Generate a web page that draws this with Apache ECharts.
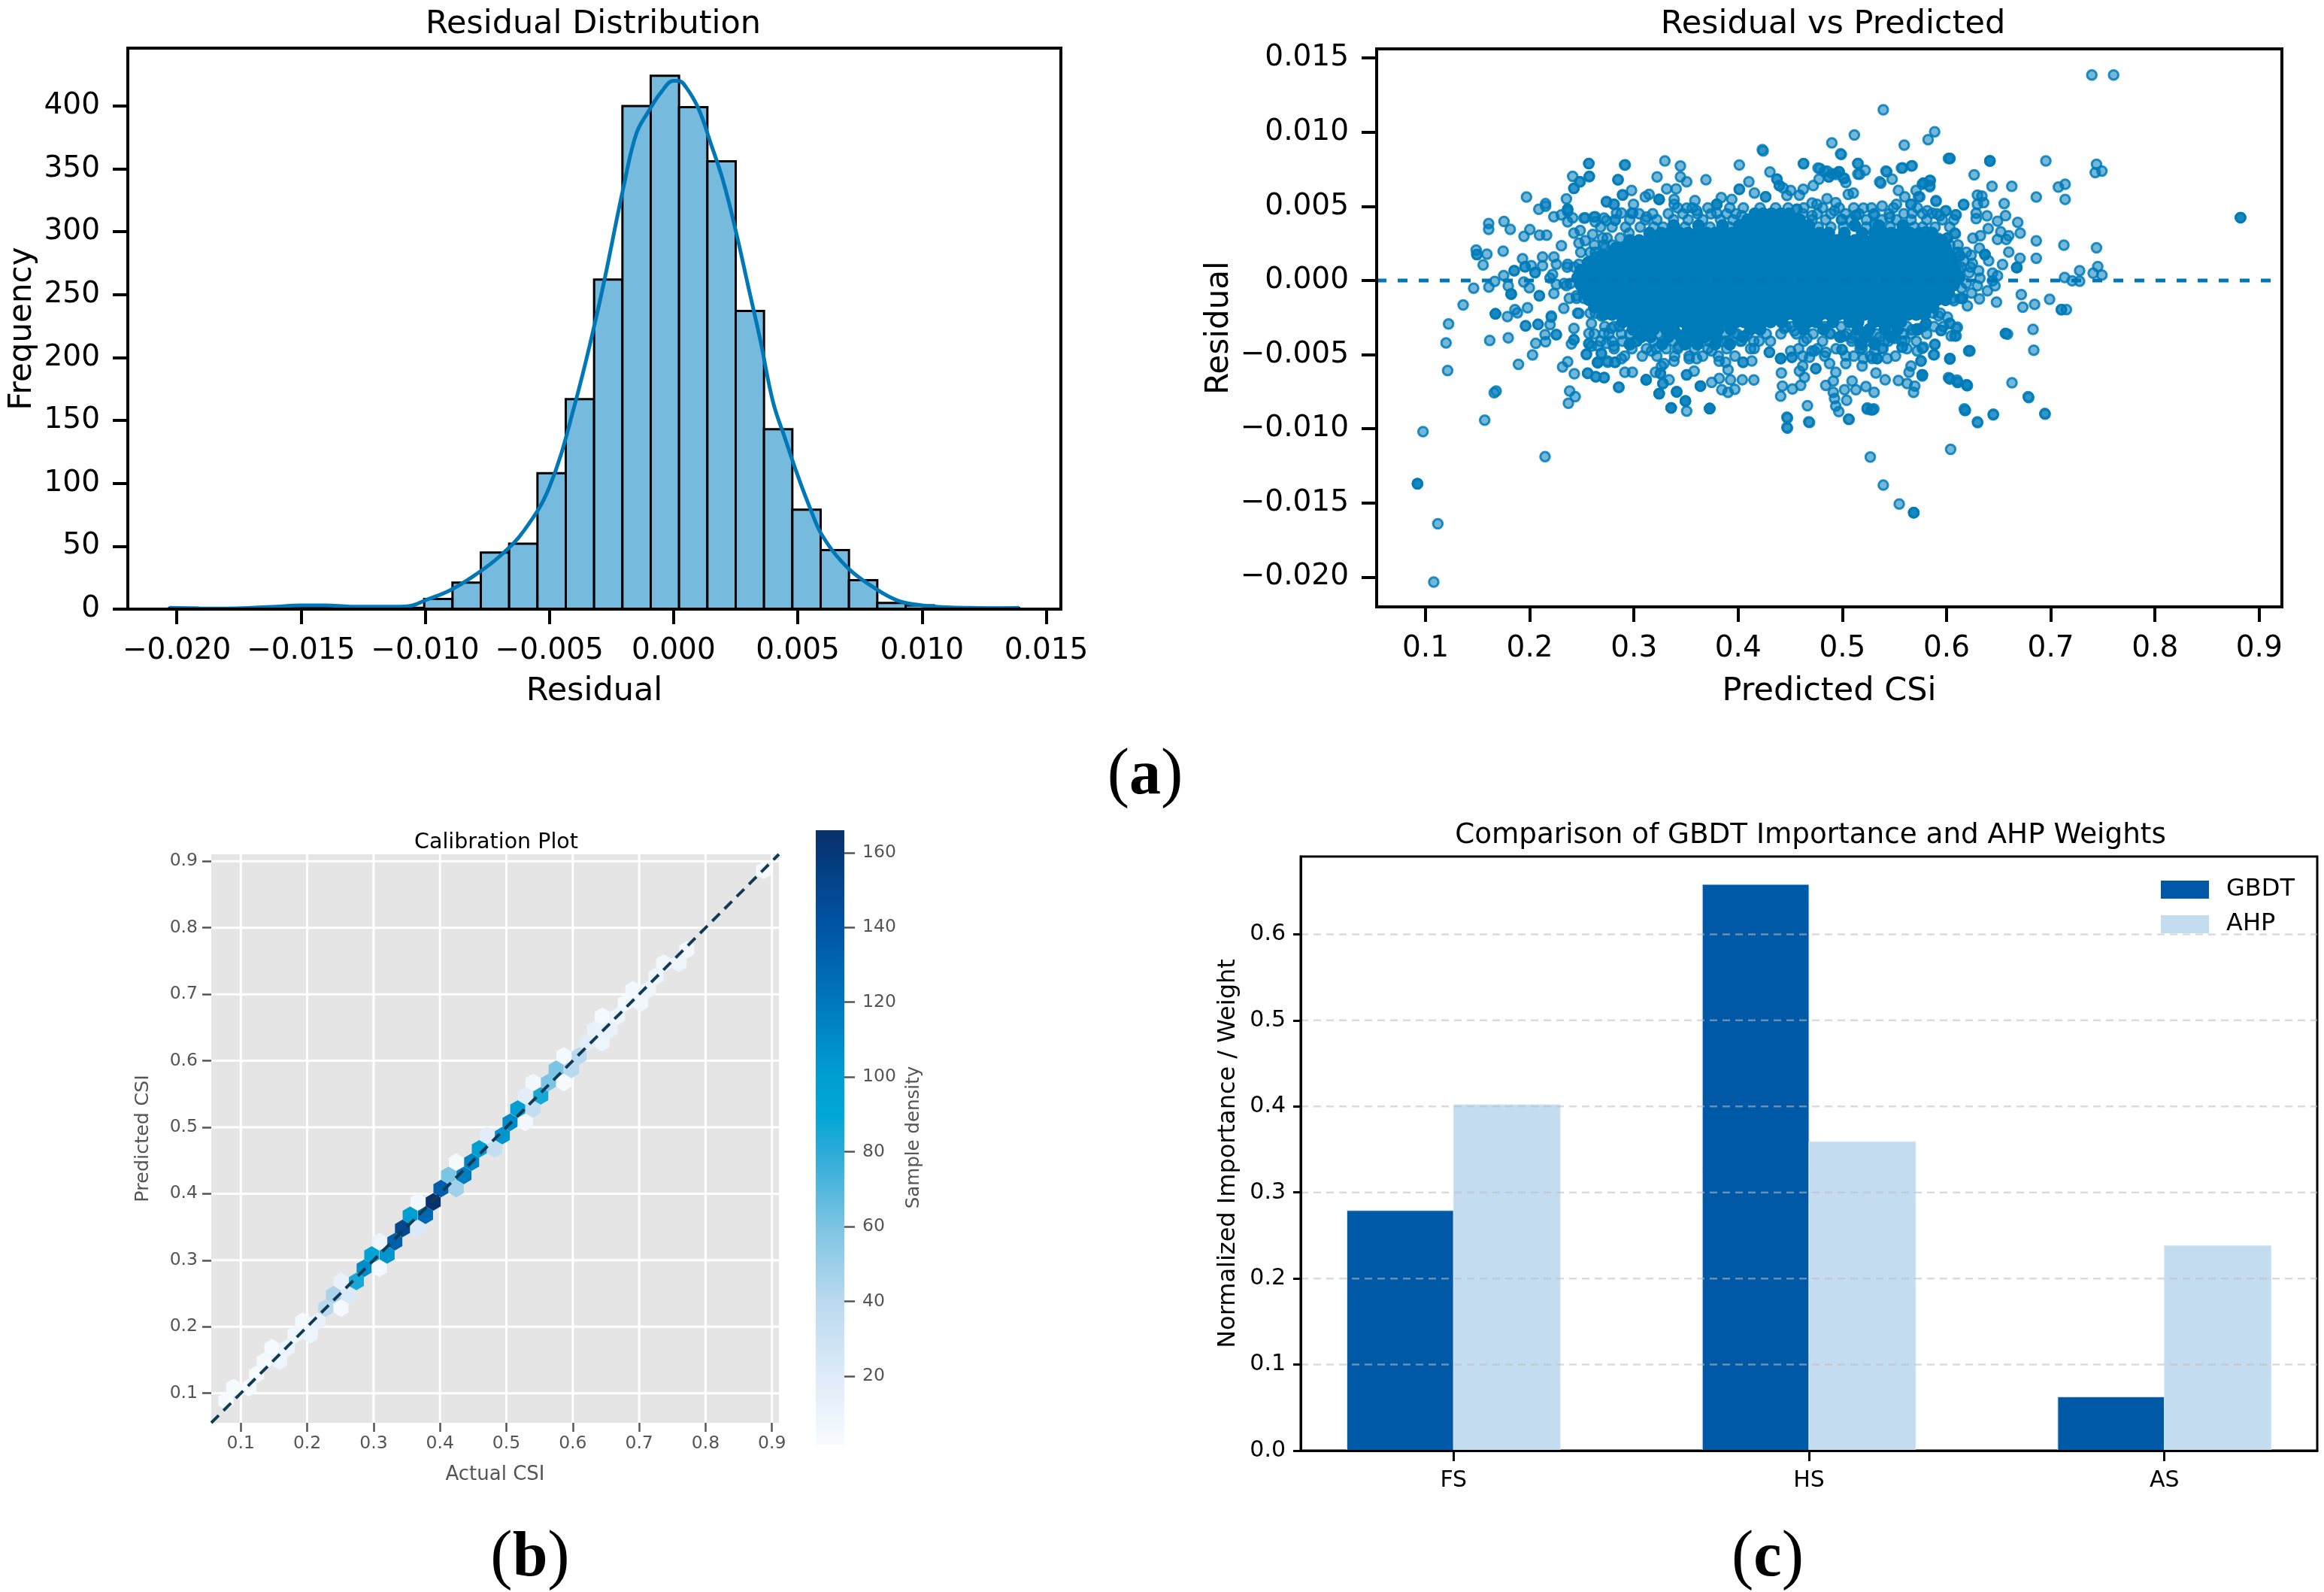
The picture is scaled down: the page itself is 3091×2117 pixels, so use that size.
<!DOCTYPE html>
<html><head><meta charset="utf-8">
<script src="https://cdn.jsdelivr.net/npm/echarts@6/dist/echarts.min.js"></script>
<style>html,body{margin:0;padding:0;background:#fff}#c{width:3091px;height:2117px}</style></head>
<body><div id="c"></div>
<script>
const FONT='"DejaVu Sans"';
// ---------- (a) left: histogram
const histBinStart=-0.0203, histBinWidth=0.00114;
const histCounts=[1,0,0,1,2,2,1,2,1,8,21,45,52,108,167,262,400,424,399,356,237,143,79,47,23,5,3,0,0,1];
const kdeCurve=[[-0.0203,1],[-0.019,0.5],[-0.018,0.5],[-0.017,1],[-0.016,2],[-0.015,3],[-0.014,3],[-0.013,2],[-0.012,2],[-0.011,2],[-0.0105,3],[-0.01,7],[-0.009,15],[-0.008,27],[-0.007,42],[-0.006,63],[-0.005,97],[-0.004,161],[-0.003,242],[-0.002,337],[-0.0015,378],[-0.001,396],[-0.0005,411],[0,420],[0.0002,420],[0.0005,415],[0.001,398],[0.0015,370],[0.002,340],[0.0025,301],[0.003,257],[0.0035,213],[0.004,165],[0.0045,135],[0.005,106],[0.0055,80],[0.006,58],[0.007,33],[0.008,18],[0.009,7],[0.01,3],[0.011,1.5],[0.012,1],[0.013,0.8],[0.0139,1]];
const histXTicks=[-0.02,-0.015,-0.01,-0.005,0,0.005,0.01,0.015];
const histYTicks=[0,50,100,150,200,250,300,350,400];
// ---------- (a) right: residual vs predicted
const resYTicks=[-0.02,-0.015,-0.01,-0.005,0,0.005,0.01,0.015];
const resXTicks=[0.1,0.2,0.3,0.4,0.5,0.6,0.7,0.8,0.9];
const residualOutliers=[[.7394,.01386],[.7603,.01386],[.5393,.01151],[.5115,.00981],[.4899,.00928],[.5594,.00913],[.5886,.01003],[.5823,.0095],[.4983,.00854],[.4232,.00882],[.6018,.00823],[.4628,.00789],[.5149,.00789],[.5149,.00718],[.567,.00774],[.5567,.00758],[.5219,.00743],[.5427,.00733],[.5358,.00665],[.4767,.00758],[.4826,.00735],[.4905,.0072],[.4937,.00715],[.502,.00688],
[.4468,-.00922],[.4468,-.0099],[.4677,-.00953],[.5059,-.00935],[.524,-.0086],[.5302,-.00866],[.5268,-.01191],[.5393,-.0138],[.5546,-.01507],[.5685,-.01566],[.5685,-.01566],[.5685,-.01566],[.6039,-.01139],[.6171,-.00866],[.6296,-.00953],[.6449,-.00901],[.6783,-.00783],[.6943,-.00897],[.622,-.00473],[.6032,-.00526],[.6018,-.00656],[.6101,-.00672],[.6192,-.00702]];
const residualLeftFringe=[[.1969,.00563],[.2566,.00788],[.257,.007],[.2412,.00702],[.2477,.00665],[.2424,.00621],[.2424,.00621],[.2917,.0078],[.2849,.0068],[.289,.00578],[.2352,.0055],[.2736,.00533],[.2809,.00514],[.2087,.0048],[.2152,.00518],[.2152,.00501],[.2231,.0043],[.2303,.00443],[.2364,.0048],[.2364,.0048],[.2364,.00465],[.1606,.00384],[.1606,.00345],[.1753,.00398],[.1813,.00345],[.2001,.00343],[.1945,.00298],[.2094,.00306],[.2162,.00306],[.1486,.00205],[.1493,.00175],[.1493,.00175],[.1589,.00178],[.1745,.00198],[.1553,.00105],[.1931,.00147],[.1851,.00066],[.1851,.00066],[.1955,.00092],[.1955,.00092],[.2051,.00053],[.2051,.00053],[.2015,.001],[.2123,.00159],[.2123,.001],[.175,.00033],[.1664,-.00006],[.1462,-.00052],[.1608,-.00044],[.1794,-.00037],[.1943,-.0001],[.1996,-.00049],[.1822,-.00091],[.1822,-.00091],[.1822,-.00091],[.1361,-.00165],[.2092,-.00103],[.2092,-.00103],[.2219,.00041],
[.2304,.00235],[.2232,.00159],[.2364,.00109],[.2472,.00252],[.2532,.00269],[.2629,.0043],[.2532,.00422],[.2412,.00422],[.2364,.00396],[.2424,.0032],[.2484,.00337],[.2604,.00311],[.27,.00286],[.2736,.00405],[.2628,.00396],[.2743,.00286],[.282,.00405],[.288,.00455],[.2868,.00286],[.2953,.0032],[.2724,.00219],[.2628,.00159],[.2556,.00109],[.2472,.00109],[.2256,.00109],[.2256,-.00027],[.2195,.00016],[.2232,-.00088],[.2352,-.00034],[.2448,-.00103],[.2544,-.00103],[.2724,-.00027],
[.1671,-.00225],[.1671,-.00225],[.1671,-.00225],[.1786,-.00243],[.1858,-.00196],[.1882,-.00218],[.1979,-.00184],[.196,-.00306],[.196,-.00306],[.208,-.00296],[.208,-.00296],[.1221,-.00293],[.1197,-.00421],[.1212,-.00607],[.1616,-.00404],[.1794,-.00387],[.2027,-.00502],[.1892,-.00565],[.2058,-.00424],[.2147,-.00365],[.2152,-.00413],[.2207,-.00247],[.2195,-.00298],[.2255,-.00365],[.2255,-.00365],[.24,-.00428],[.2424,-.004],[.2424,-.004],[.2364,-.00548],[.2315,-.00583],[.2428,-.00629],[.2556,-.00627],[.2635,-.00649],[.2715,-.00654],[.2544,-.005],[.2568,-.00428],[.2652,-.00441],[.2652,-.00551],[.2652,-.00551],[.2748,-.00543],[.2816,-.00551],[.2688,-.00492],[.2857,-.0072],[.2383,-.00746],[.2436,-.00784],[.2371,-.00828],[.1678,-.00746],[.1659,-.00757],[.1568,-.00942],[.0976,-.01019],[.0923,-.01371],[.0923,-.01371],[.0923,-.01371],[.1118,-.01641],[.1079,-.02034],[.2147,-.01188],
[.2207,-.00239],[.2327,-.00188],[.2472,-.00222],[.2592,-.0029],[.2688,-.00239],[.2784,-.00322],[.2424,-.00323],[.2568,-.00357],[.2712,-.00357]];
const residualTopFringe=[[.2568,.00789],[.2573,.00703],[.291,.00779],[.2845,.00679],[.2484,.00666],[.3297,.00806],[.3446,.00772],[.3446,.00699],[.3506,.00666],[.3222,.00699],[.3691,.00679],[.4011,.00779],[.4305,.00732],[.424,.00874],[.4627,.00787],[.499,.0085],[.5149,.00789],[.5166,.00716],[.4786,.00755],[.4853,.00738],[.4968,.00733],[.4968,.00733],[.4968,.00733],[.5009,.00691],[.5033,.00661],[.487,.00699],[.487,.00699],[.4721,.0064],[.4776,.00683],[.4625,.00615],[.4588,.00576],[.4504,.00607],[.4468,.00573],[.4372,.00683],[.4372,.00683],[.4396,.0064],[.4396,.0064],[.4432,.00624],[.4103,.00666],[.3314,.00618],[.3405,.00618],[.2977,.00607],[.2893,.00576],[.2737,.0053],[.2809,.00514],[.3145,.00581],[.3109,.00564],[.3242,.00547],[.3242,.00547],[.3242,.00547],[.3386,.00547],[.2996,.00514],[.2989,.00454],[.3585,.00539],[.3838,.00559],[.3939,.00547],[.3795,.00514],[.3795,.00514],[.3795,.00514],[.4011,.00615],[.4011,.00615],[.4156,.0059],[.4264,.00564],[.4264,.00564],[.4853,.00552],[.4709,.00522],[.4757,.00514],[.4937,.00525],[.5057,.00581],[.5105,.0059],[.5202,.00488],[.5382,.00502],[.5519,.00514],[.5418,.00738],[.5478,.00683],[.537,.00657],[.5579,.00759],[.5663,.00772],[.5538,.00607],[.5599,.00564],[.5707,.00607],[.5731,.00564],[.5779,.00657],[.5779,.00657],[.5844,.00674],[.5839,.00632],[.6031,.00823],[.6164,.00514],[.5899,.00539],[.5995,.00471],[.6087,.00443],[.5659,.00514],[.5659,.00514],[.5454,.00426],[.5815,.00471],[.5863,.00454],[.5935,.00437],[.6079,.00319],[.5919,.00285],[.513,.00438],[.513,.00438],[.5298,.00446],[.531,.00379],[.531,.00379],[.4997,.00412],[.4925,.00471],[.4709,.00438],[.4564,.0048],[.4564,.0048],[.5671,.00454],[.5803,.00328],[.5803,.00328],[.4035,.00437],[.3795,.00454],[.3602,.00471],[.3506,.00488],[.3386,.00514],[.3121,.00429],[.2977,.00454],[.2833,.00454],[.2616,.00429],[.2713,.00421],[.252,.00421]];
const residualBottomFringe=[[.2556,-.00624],[.2633,-.00649],[.2713,-.00656],[.2852,-.0072],[.2544,-.00496],[.2652,-.00556],[.2749,-.00551],[.2821,-.00551],[.2913,-.00619],[.2985,-.00619],[.3117,-.0067],[.3117,-.0067],[.3117,-.0067],[.3206,-.00619],[.3254,-.00627],[.3254,-.00627],[.3338,-.0067],[.3278,-.00695],[.3278,-.00695],[.3242,-.00763],[.3242,-.00763],[.3242,-.00763],[.341,-.00751],[.341,-.00751],[.341,-.00751],[.3357,-.00859],[.3357,-.00859],[.3357,-.00859],[.3494,-.00813],[.3494,-.00813],[.3494,-.00813],[.3506,-.00881],[.3727,-.00864],[.3727,-.00864],[.3727,-.00864],[.3727,-.00864],[.3638,-.00712],[.3638,-.00712],[.3638,-.00712],[.3506,-.00636],[.3506,-.00636],[.3578,-.00611],[.3747,-.00687],[.3819,-.00661],[.3843,-.00737],[.3903,-.00754],[.3968,-.00734],[.3927,-.0067],[.404,-.0067],[.4151,-.00671],[.3903,-.00602],[.3879,-.00551],[.4047,-.00551],[.4047,-.00551],[.4131,-.00543],[.43,-.00484],[.43,-.00484],[.4408,-.00526],[.4408,-.00526],[.4408,-.00526],[.4516,-.00518],[.4516,-.00518],[.4504,-.00475],[.4415,-.00624],[.4425,-.00712],[.4408,-.0078],[.4521,-.00732],[.46,-.00707],[.4636,-.00653],[.4588,-.00611],[.462,-.00577],[.4665,-.00844],[.4473,-.00928],[.4473,-.00996],[.4685,-.00957],[.4841,-.00484],[.4877,-.0056],[.5033,-.0056],[.4997,-.00467],[.4997,-.00467],[.5033,-.00509],[.4745,-.00594],[.4745,-.00594],[.4685,-.00518],[.4733,-.00475],[.4937,-.00619],[.4913,-.00678],[.4841,-.00707],[.4913,-.00754],[.4925,-.00796],[.5041,-.00808],[.4937,-.00847],[.4966,-.00884],[.5065,-.00937],[.5093,-.00678],[.5021,-.00737],[.513,-.00737],[.5226,-.00715],[.5305,-.00754],[.5238,-.00867],[.5291,-.00872],[.5274,-.00872],[.519,-.00577],[.5322,-.00624],[.5411,-.0067],[.5538,-.00675],[.5622,-.00695],[.5695,-.00712],[.5683,-.00754],[.564,-.00619],[.5659,-.00577],[.5767,-.00636],[.5767,-.00636],[.5767,-.00636],[.5875,-.00501],[.5888,-.0043],[.6031,-.00529],[.6031,-.00661],[.6108,-.00687],[.6195,-.00709],[.6176,-.00876],[.5574,-.0045],[.5574,-.0045],[.5779,-.0045],[.5719,-.00475],[.5755,-.00543],[.5502,-.00391],[.5803,-.00289],[.5803,-.00289],[.5947,-.00337],[.6031,-.00289],[.6104,-.00315],[.608,-.00374],[.6212,-.00475],[.543,-.00526],[.5334,-.00526],[.5334,-.00526],[.5334,-.00526],[.5286,-.00526],[.5202,-.00526],[.5358,-.00382],[.5382,-.00458],[.5118,-.00374],[.2592,-.00442],[.2568,-.00425],[.2736,-.00425],[.2808,-.00442],[.2688,-.00493],[.288,-.00527],[.3024,-.00408],[.3024,-.00408],[.3168,-.00476],[.3216,-.00459],[.3288,-.0056],[.3264,-.00577],[.3384,-.00544],[.3432,-.00442],[.353,-.00527],[.3602,-.00527],[.3746,-.00476],[.3818,-.00544],[.389,-.00408],[.3962,-.00357],[.4034,-.00408],[.4154,-.00459],[.4202,-.00408],[.4443,-.00323],[.454,-.0034],[.466,-.00391],[.4708,-.00476],[.4877,-.00357],[.5022,-.00374],[.5094,-.00391],[.519,-.00459],[.531,-.00476],[.5406,-.00408],[.5671,-.00332],[.5599,-.00408]];
const residualRightFringe=[[.6032,.00823],[.6416,.00806],[.6416,.00806],[.6416,.00806],[.6953,.00806],[.6265,.00713],[.7439,.00784],[.7427,.00728],[.7491,.00738],[.6436,.00635],[.6626,.00635],[.7138,.00649],[.7073,.0063],[.7138,.00547],[.6861,.00563],[.6296,.00576],[.6339,.00569],[.6296,.00514],[.6356,.00525],[.6164,.0051],[.6092,.00443],[.5988,.00468],[.5899,.00534],[.5839,.00674],[.5767,.00649],[.5839,.0064],[.5743,.00564],[.6553,.00519],[.6284,.00454],[.6284,.00417],[.6388,.00436],[.6489,.004],[.6566,.00437],[.6683,.00392],[.6707,.00319],[.64,.0035],[.6325,.00302],[.6253,.00285],[.6085,.00314],[.6008,.00285],[.6008,.00285],[.6008,.00285],[.652,.00328],[.6489,.00277],[.6573,.00277],[.6597,.00302],[.6597,.00192],[.6705,.0015],[.6537,.00108],[.6674,.00088],[.6674,.00088],[.6674,.00088],[.6861,.00268],[.6861,.0015],[.7126,.00238],[.7439,.00221],[.7451,.00094],[.7277,.00066],[.7407,.00049],[.7491,.00037],[.7133,.0002],[.7205,-.00002],[.7277,-.00005],[.6315,.00218],[.6368,.00175],[.6368,.00175],[.6368,.00175],[.6404,.00133],[.6236,.0017],[.6248,.00116],[.6128,.00167],[.6128,.00167],[.6308,.00066],[.6441,.00049],[.6489,.00032],[.6441,-.00002],[.632,.00015],[.6296,-.00036],[.6392,-.0007],[.6465,-.00036],[.6315,-.00124],[.6479,-.00146],[.62,-.00171],[.6152,-.0012],[.6152,-.0012],[.6717,-.00095],[.6845,-.00161],[.6732,-.0018],[.6989,-.00127],[.7102,-.00196],[.7102,-.00196],[.715,-.00196],[.683,-.0033],[.6837,-.0047],[.6566,-.00357],[.6566,-.00357],[.6585,-.00362],[.6224,-.00475],[.5887,-.00433],[.5883,-.00501],[.5767,-.00458],[.5755,-.00543],[.6032,-.00529],[.5947,-.00337],[.5803,-.00289],[.6032,-.00289],[.6092,-.00323],[.6044,-.00374],[.6092,-.00374],[.5923,-.00239],[.6008,-.00247],[.6032,-.00665],[.6104,-.00687],[.62,-.00709],[.5767,-.00644],[.6628,-.0069],[.6789,-.0079],[.6181,-.00876],[.6299,-.00959],[.6448,-.00906],[.6946,-.00901],[.8821,.00424],[.8821,.00424],[.8821,.00424],[.6216,.00052],[.6168,.00131],[.612,.00068],[.6144,-.00052],[.624,-.00085],[.6072,-.00137],[.6096,.00187]];
// Points around the dense cloud: each row starts with its residual, followed by predicted values.
const residualRingRows=[
[.0049,.342,.356,.371,.392,.405,.421,.436,.448,.463,.481,.497,.511,.528,.549,.572],
[.0045,.305,.318,.333,.347,.361,.374,.389,.398,.462,.476,.489,.503,.516,.531,.545,.559,.577,.591],
[.0041,.282,.296,.311,.322,.338,.352,.366,.383,.395,.471,.484,.499,.508,.523,.538,.552,.566,.581,.596,.607],
[.0036,.268,.279,.292,.306,.319,.328,.349,.373,.392,.477,.489,.501,.523,.546,.569,.577,.589,.603],
[.0024,.262,.271,.279,.603,.611],[.0019,.249,.258,.263,.611,.619],[.0009,.236,.243,.614,.623],[-.0002,.233,.239,.619],[-.0012,.238,.245,.252,.606,.613],[-.0022,.246,.258,.263,.587,.594],
[-.0031,.272,.281,.286,.446,.451,.483,.499,.562,.578,.588,.597],
[-.0036,.262,.276,.288,.296,.323,.342,.364,.387,.399,.409,.427,.441,.456,.472,.489,.505,.533,.559,.566,.581],
[-.0041,.268,.279,.289,.303,.319,.338,.355,.372,.384,.402,.415,.431,.463,.481,.509,.526,.544,.557,.571],
[-.0046,.281,.298,.312,.331,.342,.358,.371,.389,.412,.458,.476,.494,.517,.539,.562],
[-.0051,.291,.308,.322,.339,.353,.366,.381,.397,.462,.483,.511,.527,.551]
];
// Dense middle of the cloud.
const residualCoreRows=[
[.0045,.416,.424,.432,.441,.449],
[.0041,.409,.418,.427,.435,.444,.452,.459],
[.0037,.338,.362,.385,.401,.410,.419,.427,.436,.444,.453,.461,.468,.512,.535,.558],
[.0032,.315,.326,.334,.344,.352,.361,.370,.378,.386,.394,.403,.411,.420,.428,.436,.444,.452,.461,.469,.478,.487,.502,.519,.531,.539,.547,.556,.565,.574,.586],
[.0027,.296,.305,.314,.322,.331,.339,.348,.355,.364,.372,.380,.389,.396,.405,.413,.421,.430,.437,.446,.454,.462,.471,.479,.487,.495,.504,.512,.521,.529,.537,.545,.553,.561,.570,.578,.586,.595],
[.0022,.283,.291,.300,.308,.316,.325,.333,.341,.350,.358,.366,.375,.383,.391,.399,.408,.416,.424,.433,.441,.449,.458,.466,.474,.482,.491,.499,.507,.516,.524,.532,.541,.549,.557,.566,.574,.582,.591,.599],
[.0017,.269,.277,.286,.294,.303,.311,.319,.328,.336,.344,.353,.361,.369,.378,.386,.394,.403,.411,.419,.428,.436,.444,.453,.461,.469,.478,.486,.494,.503,.511,.519,.528,.536,.544,.553,.561,.569,.578,.586,.594,.603],
[.0012,.256,.264,.273,.281,.289,.298,.306,.314,.323,.331,.339,.348,.356,.364,.373,.381,.389,.398,.406,.414,.423,.431,.439,.448,.456,.464,.473,.481,.489,.498,.506,.514,.523,.531,.539,.548,.556,.564,.573,.581,.589,.598,.606],
[.0007,.249,.258,.266,.275,.283,.291,.300,.308,.316,.325,.333,.341,.350,.358,.366,.375,.383,.391,.400,.408,.416,.425,.433,.441,.450,.458,.466,.475,.483,.491,.500,.508,.516,.525,.533,.541,.550,.558,.566,.575,.583,.591,.600,.608],
[.0002,.246,.254,.262,.271,.279,.288,.296,.304,.313,.321,.329,.338,.346,.354,.363,.371,.379,.388,.396,.404,.413,.421,.429,.438,.446,.454,.463,.471,.479,.488,.496,.504,.513,.521,.529,.538,.546,.554,.563,.571,.579,.588,.596,.604,.612],
[-.0003,.249,.257,.266,.274,.282,.291,.299,.307,.316,.324,.332,.341,.349,.357,.366,.374,.382,.391,.399,.407,.416,.424,.432,.441,.449,.457,.466,.474,.482,.491,.499,.507,.516,.524,.532,.541,.549,.557,.566,.574,.582,.591,.599,.607],
[-.0008,.252,.260,.269,.277,.285,.294,.302,.310,.319,.327,.335,.344,.352,.360,.369,.377,.385,.394,.402,.410,.419,.427,.435,.444,.452,.460,.469,.477,.485,.494,.502,.510,.519,.527,.535,.544,.552,.560,.569,.577,.585,.594,.602],
[-.0013,.257,.266,.274,.283,.291,.299,.308,.316,.324,.333,.341,.349,.358,.366,.374,.383,.391,.399,.408,.416,.424,.433,.441,.449,.458,.466,.474,.483,.491,.499,.508,.516,.524,.533,.541,.549,.558,.566,.574,.583,.591,.599],
[-.0018,.262,.270,.279,.287,.295,.304,.312,.320,.329,.337,.345,.354,.362,.370,.379,.387,.395,.404,.412,.420,.429,.437,.445,.454,.462,.470,.479,.487,.495,.504,.512,.520,.529,.537,.545,.554,.562,.570,.579,.587],
[-.0023,.271,.279,.288,.296,.304,.313,.321,.329,.338,.346,.354,.363,.371,.379,.388,.396,.404,.413,.421,.429,.438,.446,.454,.463,.471,.479,.488,.496,.504,.513,.521,.529,.538,.546,.554,.563,.571,.579],
[-.0028,.289,.298,.306,.315,.323,.331,.340,.348,.356,.365,.373,.381,.390,.398,.406,.415,.423,.431,.442,.458,.467,.475,.491,.507,.515,.530,.538,.547,.556],
[-.0033,.299,.311,.319,.331,.338,.352,.361,.372,.381,.393,.412,.421,.463,.482,.515,.526,.541,.553,.572],
[-.0038,.307,.316,.333,.345,.357,.368,.379,.405,.498,.522,.547],
[-.0043,.296,.327,.349,.361,.378,.392,.518,.531]
];
// ---------- (b) hexbin calibration
const hexHalfWidth=0.0113, hexRadius=0.0133;
const hexCells=[[.0774,.0885,3],[.089,.1084,3],[.1121,.1084,3],[.1237,.1284,3],[.1353,.1483,4],[.1468,.1682,3],[.1584,.1483,9],[.17,.1682,10],[.1815,.1882,7],[.1931,.2081,4],[.2047,.1882,10],[.2163,.2081,12],[.2278,.2281,40],[.2394,.248,45],[.251,.2281,4],[.251,.268,12],[.2625,.248,22],[.2741,.268,85],[.2857,.288,110],[.2972,.3079,95],[.3088,.288,5],[.3088,.3279,10],[.3204,.3079,105],[.332,.3279,135],[.3435,.3478,150],[.3551,.3677,100],[.3667,.3478,22],[.3667,.3877,5],[.3782,.3677,130],[.3898,.3877,165],[.4014,.4077,135],[.4129,.4276,60],[.4245,.4077,48],[.4245,.4476,4],[.4361,.4276,118],[.4477,.4476,115],[.4592,.4675,100],[.4708,.4875,18],[.4824,.4675,35],[.4939,.4875,105],[.5055,.5074,110],[.5171,.5274,100],[.5286,.5074,5],[.5286,.5473,18],[.5402,.5274,35],[.5402,.5673,5],[.5518,.5473,85],[.5634,.5673,60],[.5749,.5872,60],[.5865,.5673,3],[.5865,.6072,4],[.5981,.5872,40],[.6096,.6072,40],[.6212,.6271,18],[.6328,.6471,12],[.6443,.6271,10],[.6443,.667,4],[.6559,.6471,12],[.6675,.667,8],[.6791,.687,4],[.6906,.7069,5],[.7022,.687,6],[.7138,.7069,8],[.7253,.7269,8],[.7369,.7468,5],[.76,.7468,10],[.7716,.7668,5],[.8873,.8864,3]];
const calibTicks=[0.1,0.2,0.3,0.4,0.5,0.6,0.7,0.8,0.9];
const calibRange=[0.0555,0.9105];
const colorbarTicks=[20,40,60,80,100,120,140,160];
const colorbarRange=[1.7,166];
const densityStops=[1.7,20,40,60,80,90,100,120,140,166];
const densityColors=['#F7FBFF','#DEEBF8','#BAD9EF','#7CC4E3','#2CAAD8','#00A7D6','#009FD1','#0078BE','#0055A5','#08306B'];
// ---------- (c) bars
const featureNames=['FS','HS','AS'];
const gbdtValues=[0.279,0.658,0.0624];
const ahpValues=[0.402,0.359,0.238];
const barYTicks=[0,0.1,0.2,0.3,0.4,0.5,0.6];
const barWidthUnits=0.3;

function densityColor(v){
  for(let i=1;i<densityStops.length;i++){
    if(v<=densityStops[i]){
      const t=(v-densityStops[i-1])/(densityStops[i]-densityStops[i-1]);
      return echarts.color.lerp(t,[densityColors[i-1],densityColors[i]]);
    }
  }
  return densityColors[densityColors.length-1];
}
const fmt3=v=>(v<0?'\u2212':'')+Math.abs(v).toFixed(3);
const fmt1=v=>Number(v).toFixed(1);
const BLUE='#0077B6';

function axis(o){
  const black=o.color||'#000';
  return Object.assign({
    type:'value',gridIndex:o.g,min:o.min,max:o.max,position:o.pos,
    name:o.name,nameLocation:'middle',nameGap:o.nameGap,
    nameTextStyle:{fontFamily:FONT,fontSize:o.nameSize,color:black},
    axisLine:{show:o.line!==false,onZero:false,lineStyle:{color:black,width:o.lw}},
    axisTick:{show:true,length:o.tl,customValues:o.ticks,lineStyle:{color:black,width:o.tw}},
    axisLabel:{show:true,margin:o.margin,fontFamily:FONT,fontSize:o.size,color:black,customValues:o.ticks,formatter:o.fmt,padding:[o.shift||0,0,0,0]},
    splitLine:{show:false},z:10
  });
}
const flattenRows=rows=>rows.flatMap(r=>r.slice(1).map(x=>[x,r[0]]));
const residualPoints=[...residualOutliers,...residualLeftFringe,...residualTopFringe,...residualBottomFringe,...residualRightFringe,...flattenRows(residualRingRows)];
const residualCore=flattenRows(residualCoreRows);

const histData=histCounts.map((c,k)=>[histBinStart+k*histBinWidth,histBinStart+(k+1)*histBinWidth,c]).filter(d=>d[2]>0);

function rectItem(fill,stroke,lw){
  return function(params,api){
    const a=api.coord([api.value(0),0]);
    const b=api.coord([api.value(1),api.value(2)]);
    return {type:'rect',shape:{x:a[0],y:b[1],width:b[0]-a[0],height:a[1]-b[1]},style:{fill,stroke,lineWidth:lw}};
  };
}
const gridLineSeries=(ticks,range,xi,yi,vertical,style,z)=>ticks.map(t=>({
  type:'line',xAxisIndex:xi,yAxisIndex:yi,silent:true,showSymbol:false,z,animation:false,
  data:vertical?[[t,range[0]],[t,range[1]]]:[[range[0],t],[range[1],t]],lineStyle:style}));

const titles=[
 ['Residual Distribution',789,11,43],['Residual vs Predicted',2438,11,43],
 ['Calibration Plot',660,1106,28.5],['Comparison of GBDT Importance and AHP Weights',2408,1093,37.3]
].map(t=>({text:t[0],left:t[1],top:t[2],padding:0,textAlign:'center',textStyle:{fontFamily:FONT,fontWeight:'normal',fontSize:t[3],color:'#000'}}));
const captions=[['a',1523,989],['b',705,2029],['c',2351,2029]].map(t=>({text:'{p|(}{l|'+t[0]+'}{p|)}',left:t[1],top:t[2],padding:0,textAlign:'center',
  textStyle:{rich:{p:{fontFamily:'"Liberation Serif"',fontWeight:'normal',fontSize:88,color:'#000'},l:{fontFamily:'"Liberation Serif"',fontWeight:'bold',fontSize:84,color:'#000'}}}}));

const option={
 animation:false,backgroundColor:'#fff',
 title:[...titles,...captions],
 grid:[
  {left:170,top:64,width:1241,height:746,show:true,borderColor:'#000',borderWidth:4,backgroundColor:'#fff'},
  {left:1831,top:65,width:1204,height:742,show:true,borderColor:'#000',borderWidth:4,backgroundColor:'#fff'},
  {left:281,top:1136,width:755,height:756,show:true,borderWidth:0,backgroundColor:'#E5E5E5'},
  {left:1085,top:1104,width:38,height:817,show:false},
  {left:1730,top:1139,width:1352,height:790,show:true,borderColor:'#000',borderWidth:3,backgroundColor:'#fff'}
 ],
 legend:{left:2869,top:1162,orient:'vertical',itemWidth:64,itemHeight:24,itemGap:14,icon:'rect',
   data:['GBDT','AHP'],textStyle:{fontFamily:FONT,fontSize:32,color:'#000',padding:[0,0,0,18]}},
 xAxis:[
  axis({g:0,min:-0.02197,max:0.01559,pos:'bottom',name:'Residual',nameGap:88,nameSize:43,ticks:histXTicks,fmt:fmt3,lw:4,tl:20,tw:4,margin:36,size:39}),
  axis({g:1,min:0.0531,max:0.9218,pos:'bottom',name:'Predicted CSi',nameGap:91,nameSize:43,ticks:resXTicks,fmt:fmt1,lw:4,tl:20,tw:4,margin:36,size:39}),
  axis({g:2,min:calibRange[0],max:calibRange[1],pos:'bottom',name:'Actual CSI',nameGap:56,nameSize:26,ticks:calibTicks,fmt:fmt1,line:false,lw:0,tl:12,tw:2.5,margin:16,size:23.5,color:'#555'}),
  {type:'value',gridIndex:3,min:0,max:1,show:false},
  axis({g:4,min:-0.43,max:2.43,pos:'bottom',ticks:[0,1,2],fmt:v=>featureNames[v],lw:3,tl:14,tw:3,margin:25,size:30})
 ],
 yAxis:[
  axis({g:0,min:0,max:446,pos:'left',name:'Frequency',nameGap:119,nameSize:42,ticks:histYTicks,fmt:v=>String(v),lw:4,tl:20,tw:4,margin:37,size:39,shift:8}),
  axis({g:1,min:-0.02201,max:0.01562,pos:'left',name:'Residual',nameGap:188,nameSize:42,ticks:resYTicks,fmt:fmt3,lw:4,tl:20,tw:4,margin:37,size:39,shift:8}),
  axis({g:2,min:calibRange[0],max:calibRange[1],pos:'left',name:'Predicted CSI',nameGap:78,nameSize:25.5,ticks:calibTicks,fmt:fmt1,line:false,lw:0,tl:12,tw:2.5,margin:18,size:23.5,color:'#555',shift:6}),
  axis({g:3,min:colorbarRange[0],max:colorbarRange[1],pos:'right',name:'Sample density',nameGap:80,nameSize:24.5,ticks:colorbarTicks,fmt:v=>String(v),line:false,lw:0,tl:14,tw:2.5,margin:24,size:23.5,color:'#555',shift:6}),
  axis({g:4,min:0,max:0.6904,pos:'left',name:'Normalized Importance / Weight',nameGap:80,nameSize:32,ticks:barYTicks,fmt:fmt1,lw:3,tl:10,tw:3,margin:20,size:30,shift:4})
 ],
 series:[
  {type:'custom',xAxisIndex:0,yAxisIndex:0,data:histData,encode:{x:[0,1],y:2},silent:true,clip:true,renderItem:rectItem('#76BADD','#000',3)},
  {type:'line',xAxisIndex:0,yAxisIndex:0,data:kdeCurve,smooth:0.4,showSymbol:false,silent:true,lineStyle:{color:BLUE,width:5}},

  {type:'scatter',xAxisIndex:1,yAxisIndex:1,data:residualCore,symbolSize:17,silent:true,progressive:0,itemStyle:{color:'#007BBA',opacity:1}},
  {type:'scatter',xAxisIndex:1,yAxisIndex:1,data:residualPoints,symbolSize:12.5,silent:true,progressive:0,
    itemStyle:{color:'rgba(0,123,186,0.55)',borderColor:'rgba(0,123,186,0.85)',borderWidth:3,opacity:1}},
  {type:'line',xAxisIndex:1,yAxisIndex:1,data:[[0.0531,0],[0.9218,0]],showSymbol:false,silent:true,lineStyle:{color:BLUE,width:5,type:[13,15]}},

  ...gridLineSeries(calibTicks,calibRange,2,2,true,{color:'#fff',width:3},1),
  ...gridLineSeries(calibTicks,calibRange,2,2,false,{color:'#fff',width:3},1),
  {type:'custom',xAxisIndex:2,yAxisIndex:2,data:hexCells,encode:{x:0,y:1},silent:true,z:2,
    renderItem(params,api){
      const c=api.coord([api.value(0),api.value(1)]);
      const s=api.size([hexHalfWidth,hexRadius]);
      const w=s[0],h=s[1];
      return {type:'polygon',shape:{points:[[c[0],c[1]-h],[c[0]+w,c[1]-h/2],[c[0]+w,c[1]+h/2],[c[0],c[1]+h],[c[0]-w,c[1]+h/2],[c[0]-w,c[1]-h/2]]},
        style:{fill:densityColor(api.value(2))}};
    }},
  {type:'line',xAxisIndex:2,yAxisIndex:2,data:[[calibRange[0],calibRange[0]],[calibRange[1],calibRange[1]]],showSymbol:false,silent:true,z:3,lineStyle:{color:'#0F3B55',width:4,type:[14,9]}},

  {type:'custom',xAxisIndex:3,yAxisIndex:3,data:[[0,1,colorbarRange[0],colorbarRange[1]]],encode:{x:[0,1],y:[2,3]},silent:true,
    renderItem(params,api){
      const a=api.coord([api.value(0),api.value(2)]);
      const b=api.coord([api.value(1),api.value(3)]);
      const lo=colorbarRange[0],hi=colorbarRange[1];
      return {type:'rect',shape:{x:a[0],y:b[1],width:b[0]-a[0],height:a[1]-b[1]},
        style:{fill:new echarts.graphic.LinearGradient(0,1,0,0,densityStops.map((v,i)=>({offset:(v-lo)/(hi-lo),color:densityColors[i]})))}};
    }},

  {type:'custom',name:'GBDT',xAxisIndex:4,yAxisIndex:4,data:gbdtValues.map((v,i)=>[i-barWidthUnits,i,v]),encode:{x:[0,1],y:2},silent:true,itemStyle:{color:'#0059A6'},renderItem:rectItem('#0059A6','#D5E6F3',1)},
  {type:'custom',name:'AHP',xAxisIndex:4,yAxisIndex:4,data:ahpValues.map((v,i)=>[i,i+barWidthUnits,v]),encode:{x:[0,1],y:2},silent:true,itemStyle:{color:'#C3DCEF'},renderItem:rectItem('#C3DCEF','#D5E6F3',1)},
  ...gridLineSeries(barYTicks.slice(1),[-0.43,2.43],4,4,false,{color:'rgba(190,190,190,0.55)',width:2.5,type:[10,7]},5)
 ]
};
const chart=echarts.init(document.getElementById('c'),null,{renderer:'canvas'});
chart.setOption(option);
</script></body></html>
